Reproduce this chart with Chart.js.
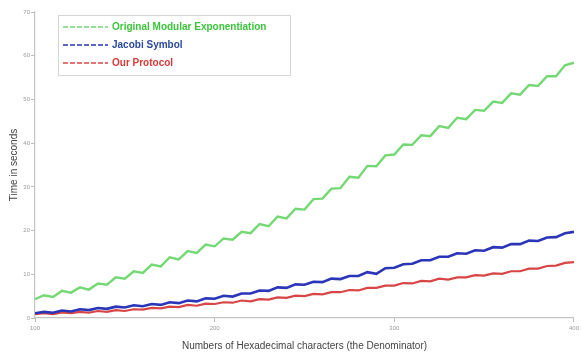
<!DOCTYPE html>
<html>
<head>
<meta charset="utf-8">
<script src="https://cdn.jsdelivr.net/npm/chart.js@4/dist/chart.umd.min.js"></script>
<style>
  html, body { margin: 0; padding: 0; background: #fff; }
  #wrap { width: 582px; height: 354px; position: relative; }
</style>
</head>
<body>
<div id="wrap"><canvas id="c"></canvas></div>
<script>
// Number of hexadecimal characters in the denominator
const hexLengths = [
  100, 105, 110, 115, 120, 125, 130, 135, 140, 145,
  150, 155, 160, 165, 170, 175, 180, 185, 190, 195,
  200, 205, 210, 215, 220, 225, 230, 235, 240, 245,
  250, 255, 260, 265, 270, 275, 280, 285, 290, 295,
  300, 305, 310, 315, 320, 325, 330, 335, 340, 345,
  350, 355, 360, 365, 370, 375, 380, 385, 390, 395,
  400
];

// Measured running times (seconds)
const originalModExp = [
  4.3, 5.2, 4.8, 6.2, 5.8, 7.0, 6.5, 7.9, 7.6, 9.3,
  9.0, 10.7, 10.3, 12.2, 11.8, 13.9, 13.4, 15.3, 14.9, 16.8,
  16.4, 18.2, 17.9, 19.7, 19.4, 21.5, 21.0, 23.2, 22.8, 25.0,
  24.8, 27.2, 27.3, 29.6, 29.7, 32.3, 32.1, 34.8, 34.7, 37.2,
  37.4, 39.7, 39.6, 41.8, 41.6, 43.9, 43.5, 45.8, 45.5, 47.6,
  47.4, 49.5, 49.2, 51.4, 51.1, 53.3, 53.1, 55.3, 55.3, 57.8,
  58.4
];
const jacobiSymbol = [
  1.1, 1.4, 1.2, 1.7, 1.5, 2.0, 1.8, 2.3, 2.1, 2.6,
  2.4, 2.9, 2.7, 3.2, 3.0, 3.6, 3.4, 4.0, 3.8, 4.5,
  4.4, 5.1, 4.9, 5.6, 5.6, 6.3, 6.2, 7.0, 6.9, 7.7,
  7.6, 8.3, 8.2, 9.0, 8.9, 9.6, 9.6, 10.5, 10.1, 11.4,
  11.5, 12.3, 12.4, 13.2, 13.2, 14.0, 14.0, 14.8, 14.7, 15.5,
  15.4, 16.2, 16.1, 16.9, 16.9, 17.7, 17.6, 18.4, 18.5, 19.4,
  19.7
];
const ourProtocol = [
  0.9, 1.1, 0.9, 1.3, 1.1, 1.4, 1.2, 1.6, 1.4, 1.8,
  1.6, 2.0, 1.9, 2.3, 2.2, 2.6, 2.5, 3.0, 2.8, 3.3,
  3.2, 3.6, 3.5, 4.0, 3.8, 4.3, 4.2, 4.7, 4.6, 5.1,
  5.0, 5.5, 5.4, 5.9, 5.9, 6.4, 6.3, 6.9, 6.9, 7.4,
  7.4, 8.0, 7.9, 8.5, 8.4, 9.0, 8.8, 9.3, 9.3, 9.8,
  9.7, 10.2, 10.1, 10.7, 10.7, 11.3, 11.3, 11.9, 12.0, 12.6,
  12.8
];

const seriesNames = ['Original Modular Exponentiation', 'Jacobi Symbol', 'Our Protocol'];
const xTicks = [100, 200, 300, 400];
const yTicks = [0, 10, 20, 30, 40, 50, 60, 70];

const toPoints = ys => ys.map((y, i) => ({ x: hexLengths[i], y }));

// Legend drawn as a framed box inside the plot, text tinted like each line
const boxLegend = {
  id: 'boxLegend',
  afterDraw(chart) {
    const ctx = chart.ctx;
    const left = 58, top = 15, w = 232, h = 60, rowH = 18;
    ctx.save();
    ctx.fillStyle = '#ffffff';
    ctx.fillRect(left, top, w, h);
    ctx.strokeStyle = '#d6d6d6';
    ctx.lineWidth = 1;
    ctx.strokeRect(left + 0.5, top + 0.5, w, h);
    ctx.font = 'bold 10px "Liberation Sans", Arial, sans-serif';
    ctx.textBaseline = 'middle';
    chart.data.datasets.forEach((ds, i) => {
      const y = top + 12 + i * rowH;
      ctx.strokeStyle = ds.borderColor;
      ctx.lineWidth = 1.5;
      ctx.setLineDash([5, 2]);
      ctx.beginPath();
      ctx.moveTo(left + 5, y);
      ctx.lineTo(left + 50, y);
      ctx.stroke();
      ctx.setLineDash([]);
      ctx.fillStyle = ds.textColor;
      ctx.fillText(ds.label, left + 54, y);
    });
    ctx.restore();
  }
};

new Chart(document.getElementById('c'), {
  type: 'line',
  data: {
    datasets: [
      { label: seriesNames[0], data: toPoints(originalModExp), borderColor: '#74d874', textColor: '#3cc43c', borderWidth: 2.4 },
      { label: seriesNames[1], data: toPoints(jacobiSymbol), borderColor: '#2a35b8', textColor: '#2a4a9a', borderWidth: 2.6 },
      { label: seriesNames[2], data: toPoints(ourProtocol), borderColor: '#d84545', textColor: '#d83a3a', borderWidth: 2.2 }
    ]
  },
  options: {
    responsive: true,
    maintainAspectRatio: false,
    animation: false,
    devicePixelRatio: 1,
    layout: { padding: { top: 12, right: 6, left: 8, bottom: 0 } },
    elements: { point: { radius: 0 }, line: { tension: 0 } },
    plugins: { legend: { display: false }, tooltip: { enabled: false } },
    scales: {
      x: {
        type: 'linear',
        min: 100, max: 400,
        afterBuildTicks: s => { s.ticks = xTicks.map(v => ({ value: v })); },
        afterFit: s => { s.height = 36; },
        grid: { drawOnChartArea: false, tickLength: 4, color: '#bbbbbb' },
        border: { color: '#c4c4c4', width: 1.2 },
        ticks: { color: '#9a9a9a', font: { size: 6, family: 'Liberation Sans' }, padding: 3, maxRotation: 0 },
        title: {
          display: true,
          text: 'Numbers of Hexadecimal characters (the Denominator)',
          color: '#444444',
          font: { size: 10, family: 'Liberation Sans' },
          padding: { top: 2, bottom: 2 }
        }
      },
      y: {
        min: 0, max: 70,
        afterBuildTicks: s => { s.ticks = yTicks.map(v => ({ value: v })); },
        afterFit: s => { s.width = 27; },
        grid: { drawOnChartArea: false, tickLength: 4, color: '#bbbbbb' },
        border: { color: '#c4c4c4', width: 1.2 },
        ticks: { color: '#9a9a9a', font: { size: 6, family: 'Liberation Sans' }, padding: 1 },
        title: {
          display: true,
          text: 'Time in seconds',
          color: '#444444',
          font: { size: 10, family: 'Liberation Sans' },
          padding: { top: 0, bottom: 2 }
        }
      }
    }
  },
  plugins: [boxLegend]
});
</script>
</body>
</html>
